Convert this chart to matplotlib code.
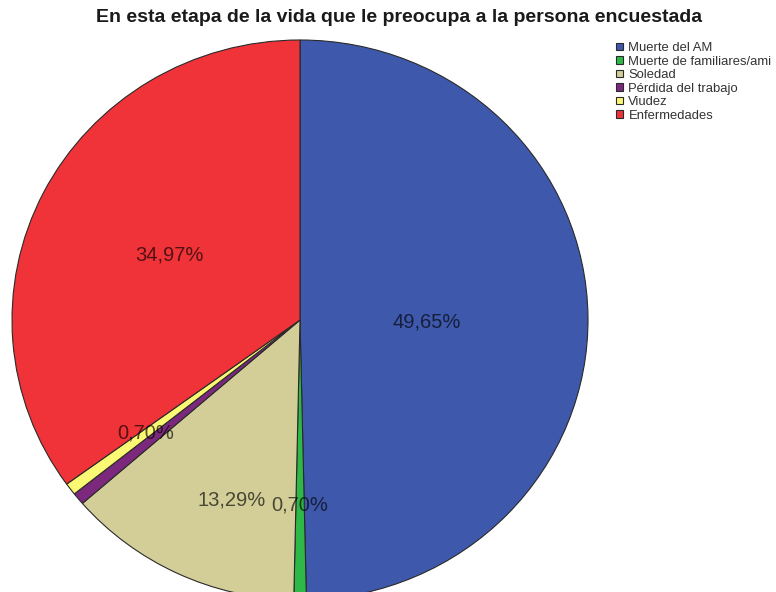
import numpy as np
import matplotlib
matplotlib.use("Agg")
import matplotlib.pyplot as plt

plt.rcParams['font.family'] = ['Liberation Sans', 'DejaVu Sans']

categories = ["Muerte del AM", "Muerte de familiares/ami", "Soledad",
              "Pérdida del trabajo", "Viudez", "Enfermedades"]
values = [49.65, 0.70, 13.29, 0.70, 0.70, 34.97]
colors = ["#3E58AC", "#2EB848", "#D3CE97", "#7C287D", "#FBF873", "#EF3338"]
# which slices carry a percentage label, how far out it sits and a small
# angular nudge (degrees) to keep it clear of neighbouring labels
show_label = [True, True, True, False, True, True]
label_radius = [0.44, 0.66, 0.685, 0.65, 0.67, 0.51]
label_nudge = [-1.5, 0.0, 5.0, 0.0, 0.0, 0.0]
title = "En esta etapa de la vida que le preocupa a la persona encuestada"

W, H = 776, 592
fig = plt.figure(figsize=(W / 100, H / 100), dpi=100)

# pie area in pixels: x 12..588, y 40..600 (top-origin)
ax = fig.add_axes([12 / W, (H - 600) / H, 576 / W, 560 / H])
wedges, _ = ax.pie(values, colors=colors, startangle=90, counterclock=False,
                   radius=1.0,
                   wedgeprops=dict(edgecolor="#2a2a2a", linewidth=0.8))
ax.set_aspect('auto')
ax.set_xlim(-1, 1)
ax.set_ylim(-1, 1)
ax.axis('off')

total = sum(values)
start = 90.0
for v, show, r, nd in zip(values, show_label, label_radius, label_nudge):
    span = 360.0 * v / total
    mid = np.deg2rad(start - span / 2 + nd)
    start -= span
    if not show:
        continue
    txt = f"{v:.2f}%".replace(".", ",")
    ax.text(r * np.cos(mid), r * np.sin(mid), txt, ha='center', va='center',
            fontsize=14.5, color='black', alpha=0.65)

fig.text(399 / W, 1 - 18 / H, title, ha='center', va='center',
         fontsize=14, fontweight='bold', color='#1a1a1a')

leg = fig.legend(wedges, categories, loc='upper left',
                 bbox_to_anchor=(616 / W, 1 - 42 / H),
                 frameon=False, fontsize=9.4, handlelength=0.5,
                 handleheight=0.5, handletextpad=0.45, labelspacing=0.12,
                 borderaxespad=0, borderpad=0)
for t in leg.get_texts():
    t.set_color('#333333')

fig.savefig("out.png", dpi=100)
